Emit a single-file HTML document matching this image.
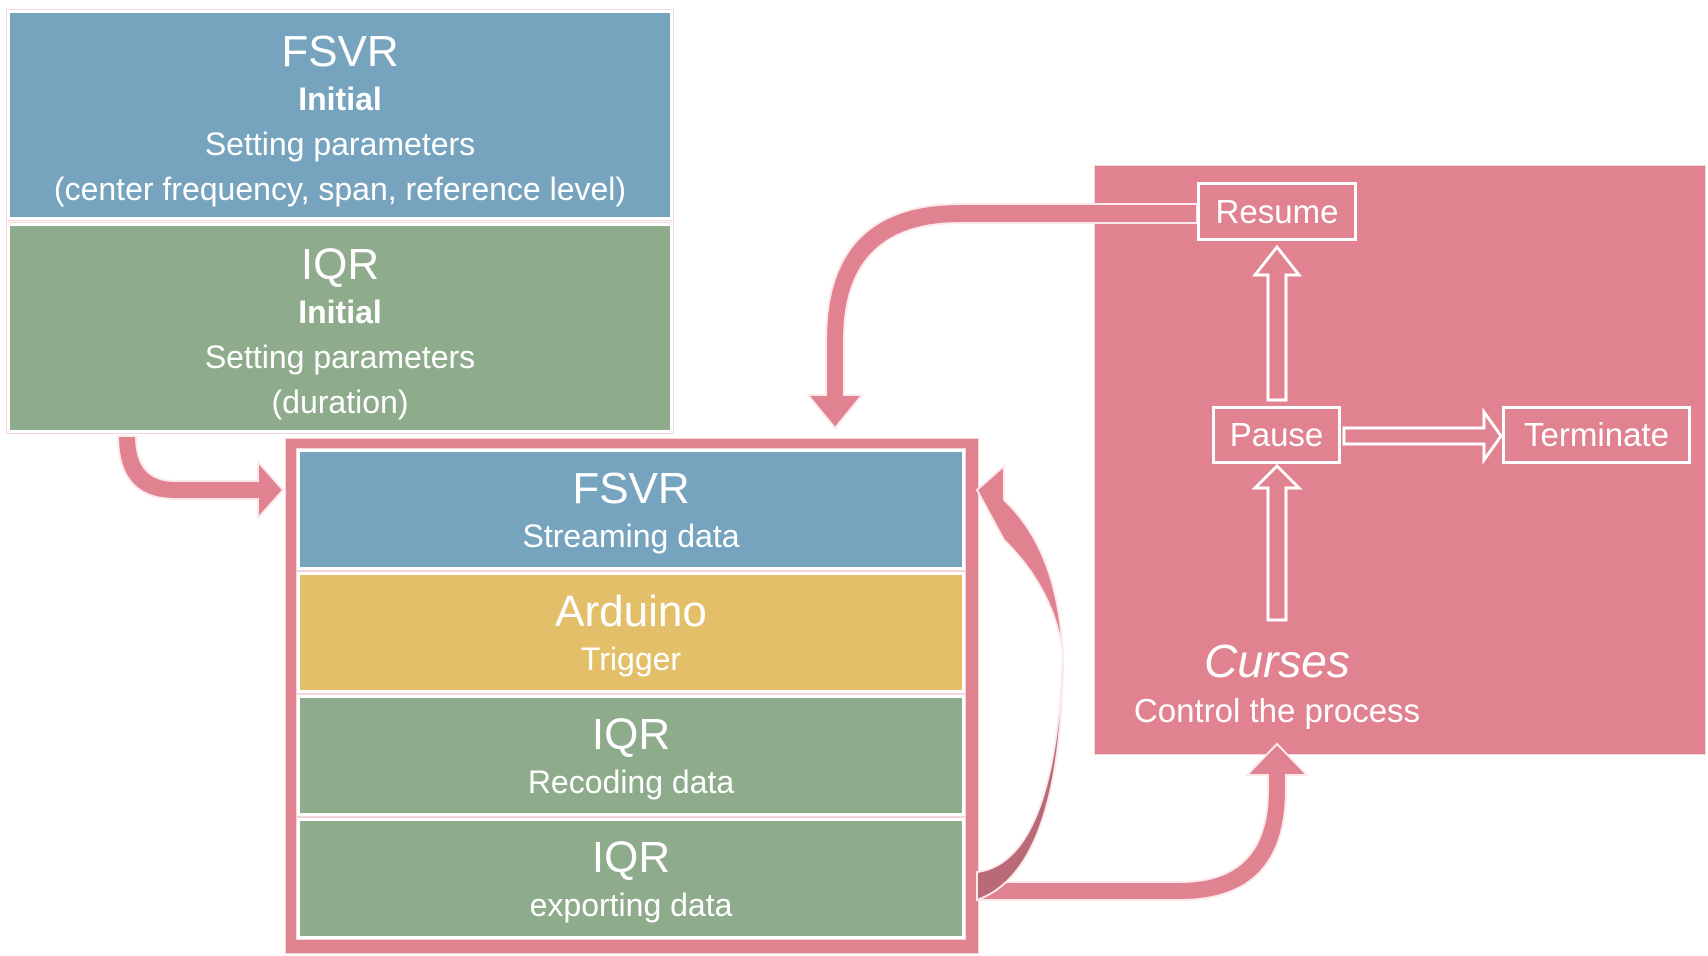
<!DOCTYPE html>
<html><head><meta charset="utf-8"><style>
body{margin:0;width:1708px;height:956px;background:#fff;position:relative;overflow:hidden;font-family:"Liberation Sans",sans-serif;color:#fff}
.b{position:absolute;box-sizing:border-box;text-align:center;border:3px solid #fff;outline:1px solid #f3d6db}
.t{font-size:44px;line-height:50px}
.s{font-size:32px;line-height:45px}
.blue{background:#76a3bd}.green{background:#8eab8c}.yel{background:#e3bf69}.pink{background:#e0828f}
svg{position:absolute;left:0;top:0}
.lb{position:absolute;box-sizing:border-box;border:3px solid #fff;font-size:33px;text-align:center}
</style></head><body>
<div class="b blue" style="left:7px;top:10px;width:666px;height:210px;padding-top:14px"><div class="t">FSVR</div><div class="s" style="font-weight:bold">Initial</div><div class="s">Setting parameters</div><div class="s">(center frequency, span, reference level)</div></div>
<div class="b green" style="left:7px;top:223px;width:666px;height:210px;padding-top:14px"><div class="t">IQR</div><div class="s" style="font-weight:bold">Initial</div><div class="s">Setting parameters</div><div class="s">(duration)</div></div>
<div class="pink" style="position:absolute;left:286px;top:439px;width:692px;height:514px;outline:1px solid #f3d6db"></div>
<div class="b blue" style="left:297px;top:449px;width:668px;height:121px;padding-top:12px"><div class="t">FSVR</div><div class="s">Streaming data</div></div>
<div class="b yel" style="left:297px;top:572px;width:668px;height:121px;padding-top:12px"><div class="t">Arduino</div><div class="s">Trigger</div></div>
<div class="b green" style="left:297px;top:695px;width:668px;height:121px;padding-top:12px"><div class="t">IQR</div><div class="s">Recoding data</div></div>
<div class="b green" style="left:297px;top:818px;width:668px;height:121px;padding-top:12px"><div class="t">IQR</div><div class="s">exporting data</div></div>
<div class="pink" style="position:absolute;left:1095px;top:166px;width:610px;height:588px;outline:1px solid #f3d6db"></div>
<svg width="1708" height="956">
<g fill="#e0828f" stroke="#fbe9ec" stroke-width="2">
<path d="M1197 204 L960 204 Q826 204 826 340 L826 395 L808 395 L835 428 L862 395 L844 395 L844 340 Q844 223 960 223 L1197 223 Z"/>
<path d="M118 436 L136 436 Q136 481 175 481 L258 481 L258 462 L283 490 L258 518 L258 499 L175 499 Q118 499 118 436 Z"/>
<path d="M977 882 L1180 882 Q1268 882 1268 790 L1268 775 L1247 775 L1277 744 L1307 775 L1286 775 L1286 790 Q1286 900 1180 900 L977 900 Z"/>
<path d="M1063 655 Q1058 550 1004 500 L1004 466 L977 490 L1004 540 Q1055 590 1063 655 Z"/>
<path d="M977 872 Q1055 862 1063 655 Q1062 870 977 900 Z" fill="#b86b77"/>
</g>
<g fill="none" stroke="#fff" stroke-width="3">
<path d="M1268 400 L1268 275 L1255 275 L1277 247 L1299 275 L1286 275 L1286 400 Z"/>
<path d="M1268 620 L1268 488 L1255 488 L1277 466 L1299 488 L1286 488 L1286 620 Z"/>
<path d="M1344 428 L1484 428 L1484 412 L1501 436 L1484 460 L1484 444 L1344 444 Z"/>
</g>
</svg>
<div class="lb" style="left:1197px;top:182px;width:160px;height:59px;line-height:53px">Resume</div>
<div class="lb" style="left:1212px;top:406px;width:129px;height:58px;line-height:52px">Pause</div>
<div class="lb" style="left:1502px;top:406px;width:189px;height:58px;line-height:52px">Terminate</div>
<div style="position:absolute;left:1077px;width:400px;top:634px;text-align:center;font-size:46px;font-style:italic">Curses</div>
<div style="position:absolute;left:1077px;width:400px;top:692px;text-align:center;font-size:33px">Control the process</div>
</body></html>
